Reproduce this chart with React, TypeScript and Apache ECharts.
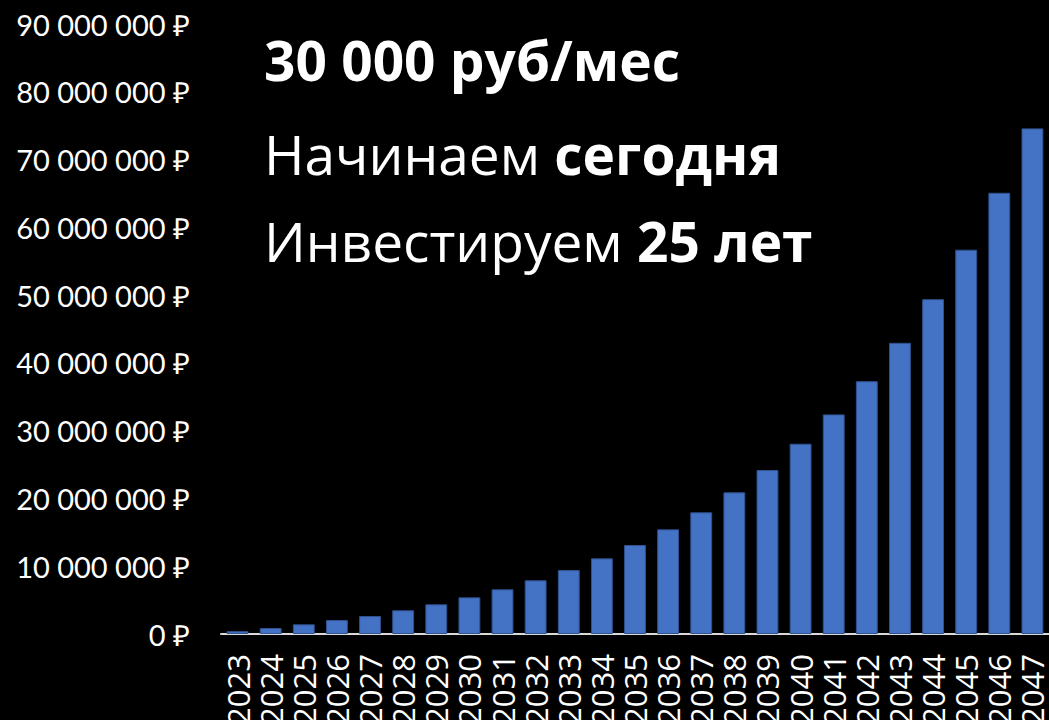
import React, { useEffect, useRef } from "react";
import * as echarts from "echarts";

const years = [
  "2023", "2024", "2025", "2026", "2027", "2028", "2029", "2030", "2031", "2032",
  "2033", "2034", "2035", "2036", "2037", "2038", "2039", "2040", "2041", "2042",
  "2043", "2044", "2045", "2046", "2047",
];

const values = [
  420000, 880000, 1430000, 2060000, 2650000, 3500000, 4380000, 5410000, 6590000, 7920000,
  9440000, 11160000, 13130000, 15440000, 17950000, 20900000, 24200000, 28070000, 32400000, 37300000,
  42960000, 49400000, 56700000, 65100000, 74600000,
];

const yTicks = { min: 0, max: 90000000, interval: 10000000 };

const titleLines = [
  [{ t: "30 000 руб/мес", b: true }],
  [{ t: "Начинаем ", b: false }, { t: "сегодня", b: true }],
  [{ t: "Инвестируем ", b: false }, { t: "25 лет", b: true }],
];

function fmt(v: number): string {
  const s = Math.round(v).toString().replace(/\B(?=(\d{3})+(?!\d))/g, " ");
  return s + " ₽";
}

export default function App() {
  const ref = useRef<HTMLDivElement>(null);
  useEffect(() => {
    document.body.style.margin = "0";
    document.body.style.background = "#000";
    const chart = echarts.init(ref.current!, undefined, { renderer: "svg" });
    const titleFont = "Open Sans";
    const tops = [24, 118, 205];
    const titles = titleLines.map((line, i) => ({
      left: 259,
      top: tops[i],
      text: line.map((p) => `{${p.b ? "b" : "n"}|${p.t}}`).join(""),
      textStyle: {
        rich: {
          b: { fontFamily: titleFont, fontWeight: "bold", fontSize: 55, color: "#fff", lineHeight: 60 },
          n: { fontFamily: titleFont, fontWeight: "normal", fontSize: 55, color: "#fff", lineHeight: 60 },
        },
      },
    }));
    chart.setOption({
      animation: false,
      backgroundColor: "#000",
      title: titles,
      grid: { left: 221, right: 0, top: 24, bottom: 86, containLabel: false, outerBoundsMode: "none" },
      xAxis: {
        type: "category",
        data: years,
        axisLine: { show: true, lineStyle: { color: "#d9d9d9", width: 2 } },
        axisTick: { show: false },
        axisLabel: {
          rotate: 90,
          interval: 0,
          color: "#fff",
          fontFamily: "Open Sans",
          fontSize: 31,
          margin: 20,
        },
      },
      yAxis: {
        type: "value",
        min: yTicks.min,
        max: yTicks.max,
        interval: yTicks.interval,
        axisLine: { show: false },
        axisTick: { show: false },
        splitLine: { show: false },
        axisLabel: {
          color: "#fff",
          fontFamily: "Lato",
          fontSize: 29,
          margin: 31,
          formatter: (v: number) => fmt(v),
        },
      },
      series: [
        {
          type: "bar",
          data: values,
          barWidth: "66%",
          itemStyle: { color: "#4472C4", borderColor: "#2F528F", borderWidth: 1 },
        },
      ],
    });
    return () => chart.dispose();
  }, []);
  return <div ref={ref} style={{ width: 1049, height: 720 }} />;
}
